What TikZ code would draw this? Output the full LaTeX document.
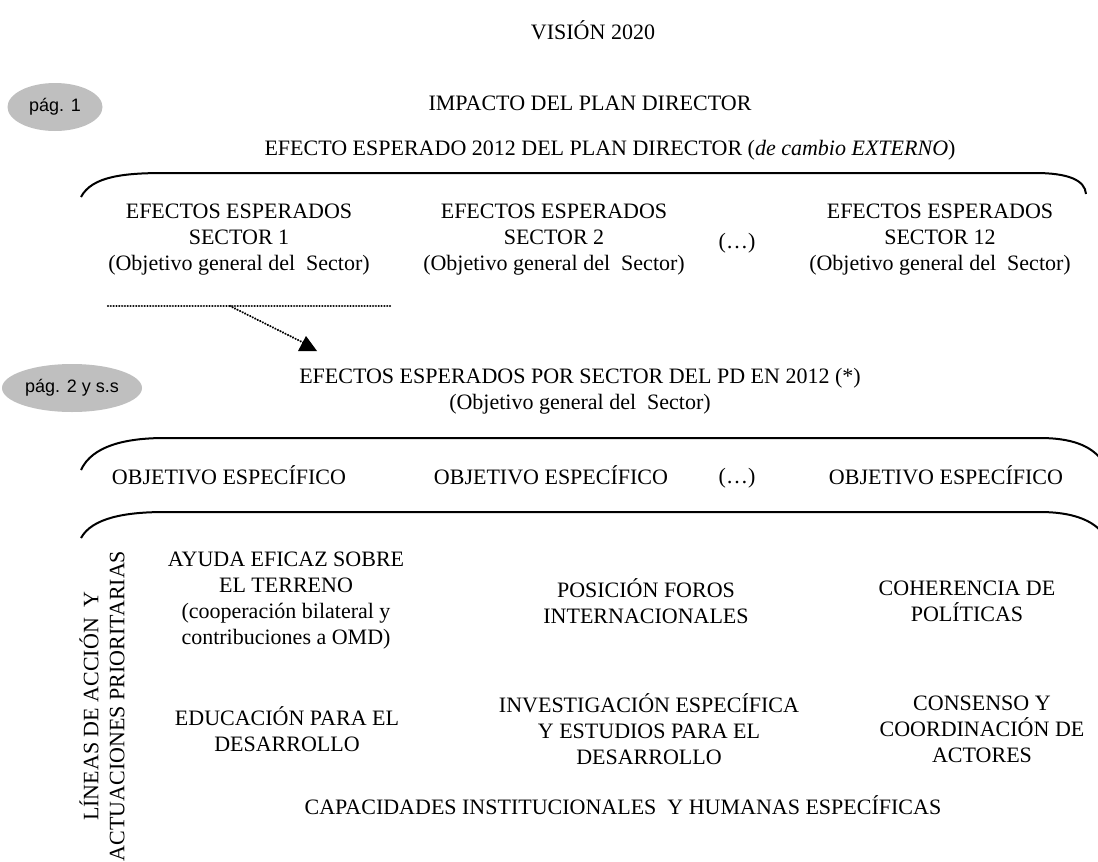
\documentclass[tikz,border=0pt]{standalone}
\usepackage{fontspec}
\setmainfont{Liberation Serif}
\newfontfamily\pagfont{Liberation Sans}
\usetikzlibrary{shapes.geometric}

\tikzset{
  txt/.style={align=center, inner sep=0pt, font=\fontsize{11}{13}\selectfont},
  pag/.style={ellipse, fill=black!25, inner sep=0pt, font=\pagfont\fontsize{9}{11}\selectfont},
  curl/.style={line width=1pt},
  dots/.style={line width=1.2pt, line cap=round, dash pattern=on 0.01pt off 1.4pt}
}

\begin{document}
\begin{tikzpicture}[x=0.5pt, y=-0.5pt]

  % page frame
  \useasboundingbox (0,0) rectangle (1098,862);
  \clip (0,0) rectangle (1098,862);

  % page markers
  \node[pag, minimum width=47.5pt, minimum height=24pt] (pag1) at (55,107) {pág. 1};
  \node[pag, minimum width=70pt, minimum height=24pt] (pag2) at (72,388) {pág. 2 y s.s};

  % top titles
  \node[txt] (vision) at (593,30) {VISIÓN 2020};
  \node[txt] (impacto) at (590,103) {IMPACTO DEL PLAN DIRECTOR};
  \node[txt] (efecto) at (610,150) {EFECTO ESPERADO 2012 DEL PLAN DIRECTOR (\textit{de cambio EXTERNO})};

  % curled brackets
  \draw[curl] (81,197) .. controls (92,176) and (125,173) .. (165,173) -- (1035,173)
    .. controls (1068,173) and (1085,180) .. (1086,194);
  \draw[curl] (81,470) .. controls (92,446) and (125,438) .. (165,438) -- (1040,438)
    .. controls (1072,438) and (1090,446) .. (1100,458);
  \draw[curl] (81,538) .. controls (92,518) and (125,512) .. (165,512) -- (1040,512)
    .. controls (1072,512) and (1090,520) .. (1100,530);

  % sectors
  \node[txt] (sec1) at (239,240) {EFECTOS ESPERADOS\\SECTOR 1\\(Objetivo general del\ \ Sector)};
  \node[txt] (sec2) at (554,240) {EFECTOS ESPERADOS\\SECTOR 2\\(Objetivo general del\ \ Sector)};
  \node[txt] (secdots) at (737,243) {(…)};
  \node[txt] (sec12) at (940,240) {EFECTOS ESPERADOS\\SECTOR 12\\(Objetivo general del\ \ Sector)};

  % dotted pointer
  \coordinate (dotL) at (108,306);
  \coordinate (dotR) at (390,306);
  \coordinate (dotS) at (230,306);
  \coordinate (arrT) at (306,344);
  \draw[dots] (dotL) -- (dotR);
  \draw[dots] (dotS) -- (arrT);
  \fill ([shift={(-8,7)}]arrT) -- ([shift={(11,7)}]arrT) -- ([shift={(0,-8)}]arrT) -- cycle;

  \node[txt] (porsector) at (580,391) {EFECTOS ESPERADOS POR SECTOR DEL PD EN 2012 (*)\\(Objetivo general del\ \ Sector)};

  % specific objectives
  \node[txt] (obj1) at (229,475) {OBJETIVO ESPECÍFICO};
  \node[txt] (obj2) at (551,475) {OBJETIVO ESPECÍFICO};
  \node[txt] (objdots) at (737,478) {(…)};
  \node[txt] (obj3) at (946,475) {OBJETIVO ESPECÍFICO};

  % lines of action
  \node[txt, rotate=90] (lineas) at (102,706) {LÍNEAS DE ACCIÓN\ \ Y\\ACTUACIONES PRIORITARIAS};
  \node[txt] (ayuda) at (286,601) {AYUDA EFICAZ SOBRE\\EL TERRENO\\(cooperación bilateral y\\contribuciones a OMD)};
  \node[txt] (posicion) at (646,601) {POSICIÓN FOROS\\INTERNACIONALES};
  \node[txt] (coherencia) at (967,601) {COHERENCIA DE\\POLÍTICAS};
  \node[txt] (educacion) at (287,729) {EDUCACIÓN PARA EL\\DESARROLLO};
  \node[txt] (investig) at (649,729) {INVESTIGACIÓN ESPECÍFICA\\Y ESTUDIOS PARA EL\\DESARROLLO};
  \node[txt] (consenso) at (982,729) {CONSENSO Y\\COORDINACIÓN DE\\ACTORES};
  \node[txt] (capacidades) at (623,805) {CAPACIDADES INSTITUCIONALES\ \ Y HUMANAS ESPECÍFICAS};

\end{tikzpicture}
\end{document}
